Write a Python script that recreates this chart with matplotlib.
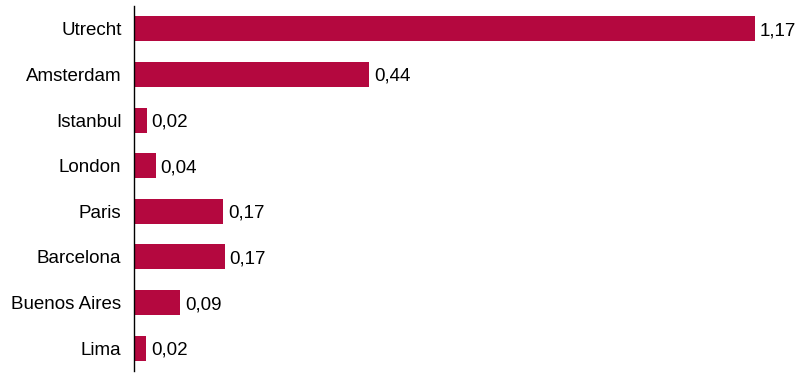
import numpy as np
import matplotlib.pyplot as plt

plt.rcParams['font.family'] = ['Liberation Sans', 'DejaVu Sans']

cities = ['Utrecht', 'Amsterdam', 'Istanbul', 'London', 'Paris',
          'Barcelona', 'Buenos Aires', 'Lima']
values = [1.17, 0.443, 0.024, 0.041, 0.168, 0.171, 0.087, 0.023]

fig = plt.figure(figsize=(8.04, 3.79), dpi=100)
ax = fig.add_axes([134 / 804, 1 - 371 / 379, (800 - 134) / 804, 365 / 379])

y = np.arange(len(cities))
ax.barh(y, values, height=0.55, color='#b4083f')

for yi, v in zip(y, values):
    ax.text(v + 0.009, yi, f'{v:.2f}'.replace('.', ','), va='center_baseline',
            ha='left', fontsize=13.5)

ax.set_yticks(y)
ax.set_yticklabels(cities, fontsize=13.5, va='center_baseline')
ax.tick_params(axis='y', length=0, pad=9)
ax.set_xticks([])
ax.set_xlim(0, (800 - 134) / 530.8)
ax.set_ylim(len(cities) - 0.5, -0.5)
for s in ['top', 'right', 'bottom']:
    ax.spines[s].set_visible(False)
ax.spines['left'].set_linewidth(1)

fig.savefig('out.png', dpi=100)
